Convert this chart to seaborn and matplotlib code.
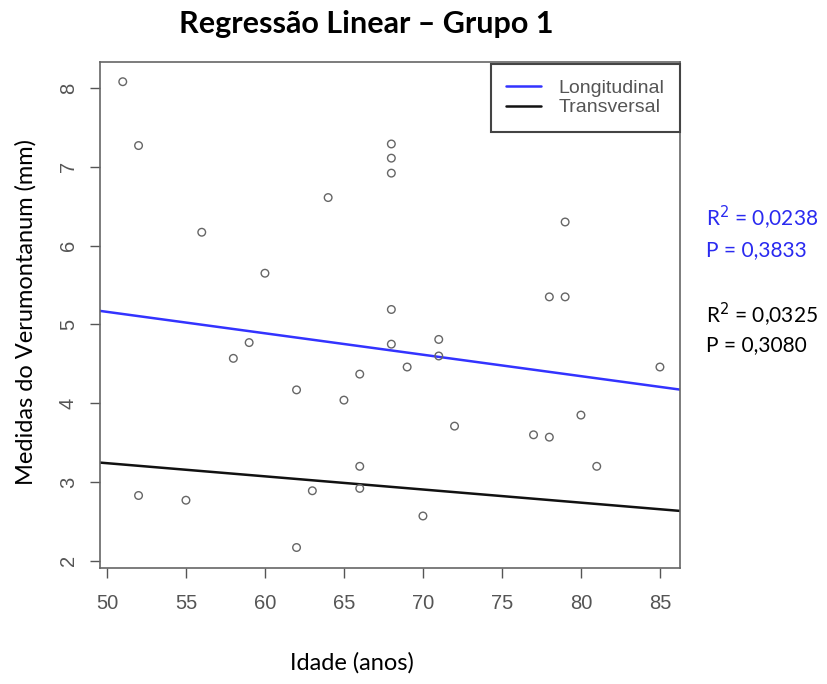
import matplotlib
matplotlib.use("Agg")
import matplotlib.pyplot as plt
import seaborn as sns
import numpy as np
import pandas as pd

# Data
idade = [51, 52, 56, 60, 59, 58, 52, 55, 62, 62, 63, 64, 65, 66, 66, 66,
         68, 68, 68, 68, 68, 69, 71, 71, 70, 72, 77, 78, 78, 79, 79, 80, 81, 85]
medidas = [8.08, 7.27, 6.17, 5.65, 4.77, 4.57, 2.83, 2.77, 4.17, 2.17, 2.89, 6.61,
           4.04, 4.37, 3.20, 2.92, 7.29, 7.11, 6.92, 5.19, 4.75, 4.46, 4.81, 4.60,
           2.57, 3.71, 3.60, 3.57, 5.35, 5.35, 6.30, 3.85, 3.20, 4.46]

# Regression lines (value at age 50, slope per year)
series = ["Longitudinal", "Transversal"]
intercept_50 = [5.16, 3.24]
slope = [-0.0272, -0.0167]
line_colors = ["#3333ff", "#111111"]

stats_r2 = ["0,0238", "0,0325"]
stats_p = ["0,3833", "0,3080"]

xticks = [50, 55, 60, 65, 70, 75, 80, 85]
yticks = [2, 3, 4, 5, 6, 7, 8]
xlim = (49.56, 86.27)
ylim = (1.91, 8.33)

sns.set_theme(style="white")
plt.rcParams["font.family"] = ["Liberation Sans", "DejaVu Sans"]

fig = plt.figure(figsize=(8.27, 6.84), dpi=100)
ax = fig.add_axes([100/827, 1 - 568/684, 580/827, 506/684])

df = pd.DataFrame({"Idade": idade, "Medidas": medidas})
sns.scatterplot(data=df, x="Idade", y="Medidas", ax=ax, marker="o",
                s=30, facecolor="none", edgecolor="#666666", linewidth=1.0,
                zorder=3)

rows = []
for name, b0, b1 in zip(series, intercept_50, slope):
    for xv in xlim:
        rows.append({"Idade": xv, "Medidas": b0 + b1 * (xv - 50), "Serie": name})
ldf = pd.DataFrame(rows)
sns.lineplot(data=ldf, x="Idade", y="Medidas", hue="Serie",
             palette=dict(zip(series, line_colors)), linewidth=1.8, ax=ax,
             zorder=2)

ax.set_xlim(*xlim)
ax.set_ylim(*ylim)
ax.set_xticks(xticks)
ax.set_yticks(yticks)
ax.set_xlabel("")
ax.set_ylabel("")
ax.tick_params(axis="both", direction="out", length=7, width=1, color="#555555",
               labelcolor="#555555", labelsize=14.5, bottom=True, left=True)
ax.tick_params(axis="x", pad=12)
ax.tick_params(axis="y", pad=9)
for lab in ax.get_yticklabels():
    lab.set_rotation(90)
    lab.set_va("center")
for sp in ax.spines.values():
    sp.set_color("#666666")
    sp.set_linewidth(1.2)

leg = ax.legend(loc="upper right", frameon=True, fancybox=False, framealpha=1,
                edgecolor="#444444", borderaxespad=0, fontsize=14,
                handlelength=1.8, handletextpad=0.9, borderpad=0.8,
                labelspacing=0.08, title=None,
                bbox_to_anchor=(1.0, 1 - 2/506))
leg.get_frame().set_linewidth(1.5)
for t in leg.get_texts():
    t.set_color("#555555")

cal = ["Lato", "DejaVu Sans"]
fig.text(366/827, 1 - 24/684, "Regressão Linear – Grupo 1", ha="center",
         va="center", fontsize=22, fontweight="bold", family=cal, color="black")
fig.text(352/827, 1 - 663/684, "Idade (anos)", ha="center", va="center",
         fontsize=17, family=cal, color="black")
fig.text(26/827, 1 - 312/684, "Medidas do Verumontanum (mm)", ha="center",
         va="center", rotation=90, fontsize=17, family=cal, color="black")

ys = [(218, 250), (315, 345)]
for (y1, y2), r2, p, c in zip(ys, stats_r2, stats_p, ["#2a2af0", "black"]):
    fig.text(706/827, 1 - y1/684, f"R$^2$ = {r2}", ha="left", va="center",
             fontsize=15, family=cal, color=c)
    fig.text(706/827, 1 - y2/684, f"P = {p}", ha="left", va="center",
             fontsize=15, family=cal, color=c)

fig.savefig("out.png", dpi=100)
